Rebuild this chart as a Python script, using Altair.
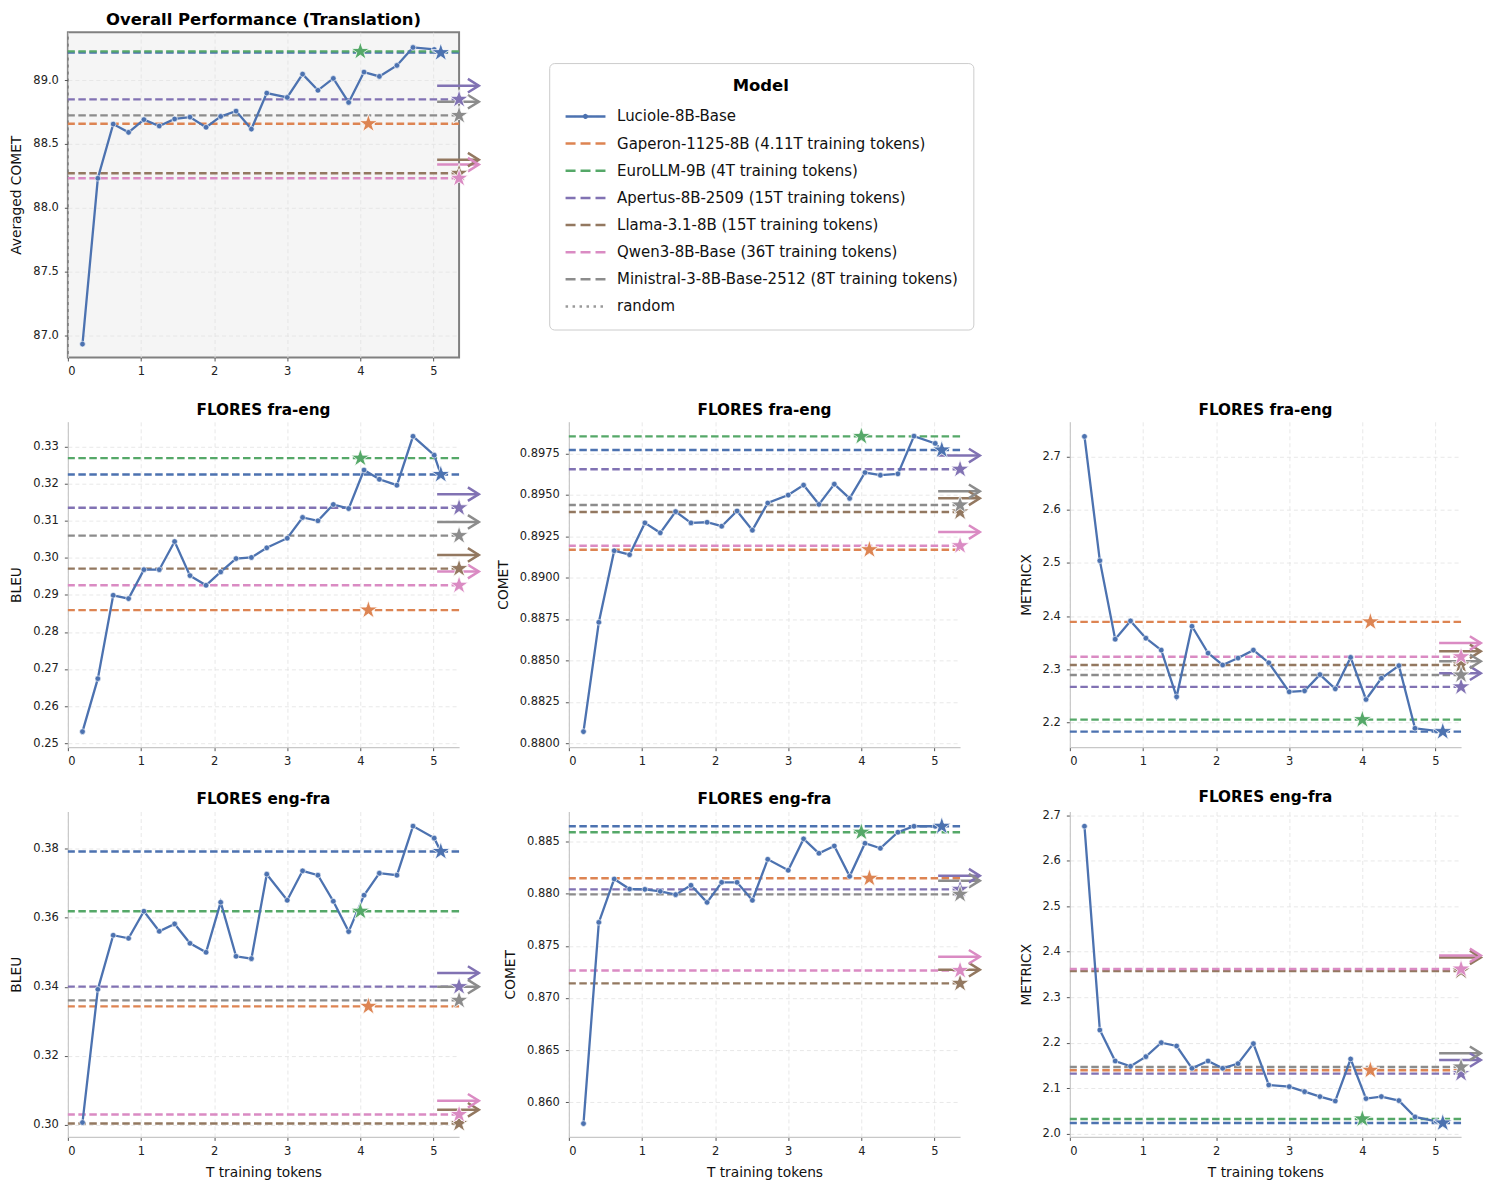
import altair as alt
import pandas as pd

FONT = "DejaVu Sans"

# ---------------- data ----------------
models = [
    "Luciole-8B-Base",
    "Gaperon-1125-8B (4.11T training tokens)",
    "EuroLLM-9B (4T training tokens)",
    "Apertus-8B-2509 (15T training tokens)",
    "Llama-3.1-8B (15T training tokens)",
    "Qwen3-8B-Base (36T training tokens)",
    "Ministral-3-8B-Base-2512 (8T training tokens)",
    "random",
]
colors = ["#4C72B0", "#DD8452", "#55A868", "#8172B3", "#937860", "#DA8BC3", "#8C8C8C", "#9A9A9A"]
baseline_models = models[1:7]
baseline_tokens = [4.11, 4.0, 15, 15, 36, 8]

# checkpoints of Luciole (T training tokens); last one is the final model
x_ckpt = [0.2, 0.41, 0.62, 0.83, 1.04, 1.25, 1.46, 1.67, 1.89, 2.09, 2.3, 2.51,
          2.72, 3.0, 3.21, 3.42, 3.63, 3.84, 4.05, 4.26, 4.5, 4.72, 5.01, 5.1]

overall_comet = [86.93, 88.23, 88.655, 88.59, 88.69, 88.64, 88.695, 88.71, 88.63, 88.715, 88.757, 88.616,
                 88.898, 88.864, 89.047, 88.92, 89.013, 88.825, 89.063, 89.029, 89.115, 89.256, 89.24, 89.215]
fe_bleu = [0.2531, 0.2674, 0.2899, 0.2890, 0.2968, 0.2968, 0.3044, 0.2952, 0.2926, 0.2962, 0.2998, 0.3001,
           0.3027, 0.3053, 0.3109, 0.3100, 0.3144, 0.3133, 0.3237, 0.3212, 0.3196, 0.3328, 0.3277, 0.3225]
fe_comet = [0.8807, 0.8873, 0.89162, 0.89138, 0.8933, 0.8927, 0.89398, 0.8933, 0.89334, 0.8931, 0.89402, 0.89286,
            0.8945, 0.89498, 0.89558, 0.89442, 0.89564, 0.89478, 0.89634, 0.89618, 0.89626, 0.89854, 0.8981, 0.8977]
fe_metricx = [2.738, 2.5042, 2.3565, 2.3908, 2.3584, 2.3359, 2.248, 2.3808, 2.3303, 2.3079, 2.3209, 2.3359,
              2.3122, 2.2574, 2.2592, 2.2898, 2.263, 2.3222, 2.243, 2.2829, 2.3066, 2.1888, 2.184, 2.1825]
ef_bleu = [0.30068, 0.33927, 0.35495, 0.35407, 0.36191, 0.35611, 0.35823, 0.35262, 0.35001, 0.36452, 0.34885, 0.34817,
           0.37265, 0.3651, 0.37362, 0.37236, 0.36481, 0.35601, 0.36655, 0.37294, 0.37236, 0.38658, 0.3831, 0.37923]
ef_comet = [0.85795, 0.87725, 0.88141, 0.88045, 0.88042, 0.88023, 0.87991, 0.88081, 0.87917, 0.88109, 0.88109, 0.87937,
            0.8833, 0.88225, 0.88526, 0.88388, 0.88458, 0.88167, 0.88484, 0.88436, 0.8859, 0.88647, 0.88647, 0.88647]
ef_metricx = [2.6758, 2.2277, 2.1596, 2.1479, 2.1691, 2.1999, 2.1926, 2.1435, 2.1596, 2.1435, 2.1538, 2.1977,
              2.1069, 2.1032, 2.0922, 2.0813, 2.0717, 2.164, 2.0769, 2.0813, 2.0725, 2.0366, 2.0271, 2.0234]

# baseline scores, order: Gaperon, EuroLLM, Apertus, Llama, Qwen3, Ministral
overall_base = [88.658, 89.225, 88.849, 88.269, 88.23, 88.723]
fe_bleu_base = [0.2859, 0.3269, 0.3135, 0.2971, 0.2926, 0.3060]
fe_comet_base = [0.89168, 0.89852, 0.89654, 0.89396, 0.89192, 0.89438]
fe_metricx_base = [2.389, 2.205, 2.2667, 2.3079, 2.3234, 2.2891]
ef_bleu_base = [0.33434, 0.36191, 0.34005, 0.30039, 0.303, 0.33608]
ef_comet_base = [0.88148, 0.8859, 0.88042, 0.8714, 0.87264, 0.87994]
ef_metricx_base = [2.1391, 2.0322, 2.1318, 2.3573, 2.3617, 2.1464]

# y tick labels per panel
overall_ticks = [87.0, 87.5, 88.0, 88.5, 89.0]
fe_bleu_ticks = [0.25, 0.26, 0.27, 0.28, 0.29, 0.30, 0.31, 0.32, 0.33]
fe_comet_ticks = [0.88, 0.8825, 0.885, 0.8875, 0.89, 0.8925, 0.895, 0.8975]
fe_metricx_ticks = [2.2, 2.3, 2.4, 2.5, 2.6, 2.7]
ef_bleu_ticks = [0.30, 0.32, 0.34, 0.36, 0.38]
ef_comet_ticks = [0.86, 0.865, 0.87, 0.875, 0.88, 0.885]
ef_metricx_ticks = [2.0, 2.1, 2.2, 2.3, 2.4, 2.5, 2.6, 2.7]
x_ticks = [0, 1, 2, 3, 4, 5]

panels = [
    dict(title="Overall Performance (Translation)", ytitle="Averaged COMET", vals=overall_comet,
         base=overall_base, dom=[86.825, 89.376], ticks=overall_ticks, fmt=".1f"),
    dict(title="FLORES fra-eng", ytitle="BLEU", vals=fe_bleu, base=fe_bleu_base,
         dom=[0.2489, 0.3367], ticks=fe_bleu_ticks, fmt=".2f"),
    dict(title="FLORES fra-eng", ytitle="COMET", vals=fe_comet, base=fe_comet_base,
         dom=[0.87976, 0.8994], ticks=fe_comet_ticks, fmt=".4f"),
    dict(title="FLORES fra-eng", ytitle="METRICX", vals=fe_metricx, base=fe_metricx_base,
         dom=[2.1532, 2.7655], ticks=fe_metricx_ticks, fmt=".1f"),
    dict(title="FLORES eng-fra", ytitle="BLEU", vals=ef_bleu, base=ef_bleu_base,
         dom=[0.2965, 0.3908], ticks=ef_bleu_ticks, fmt=".2f"),
    dict(title="FLORES eng-fra", ytitle="COMET", vals=ef_comet, base=ef_comet_base,
         dom=[0.85667, 0.88788], ticks=ef_comet_ticks, fmt=".3f"),
    dict(title="FLORES eng-fra", ytitle="METRICX", vals=ef_metricx, base=ef_metricx_base,
         dom=[1.9927, 2.708], ticks=ef_metricx_ticks, fmt=".1f"),
]

# ---------------- style ----------------
XMAX = 5.35
ARROW_X0, ARROW_X1 = 5.05, 5.62
ARROW_DY = -13.7
W, H = 392, 326
STAR = ("M0,-1L0.2245,-0.309L0.951,-0.309L0.363,0.118L0.588,0.809L0,0.382"
        "L-0.588,0.809L-0.363,0.118L-0.951,-0.309L-0.2245,-0.309Z")
CHEVRON = "M-1,-0.62L0,0L-1,0.62"
LEG_LINE = "M-1.47,0L1.47,0"
LEG_LINE_DOT = "M-1.47,0L1.47,0M0.1,0A0.1,0.1,0,1,1,-0.1,0A0.1,0.1,0,1,1,0.1,0Z"
legend_dashes = [[1, 0]] + [[10, 5]] * 6 + [[2.5, 4.5]]
legend_shapes = [LEG_LINE_DOT] + [LEG_LINE] * 7

color_scale = alt.Scale(domain=models, range=colors)
dash_scale = alt.Scale(domain=models, range=legend_dashes)
shape_scale = alt.Scale(domain=models, range=legend_shapes)

LEG = alt.Legend(
    orient="none", legendX=482.3, legendY=31, title="Model",
    titleFont=FONT, titleFontSize=16.5, titleFontWeight="bold", titleColor="black",
    titleAnchor="middle", titlePadding=7,
    labelFont=FONT, labelFontSize=15, labelColor="#111", labelLimit=800, labelOffset=16.6,
    symbolSize=740, symbolStrokeWidth=2.5, symbolOffset=6.4, symbolOpacity=1,
    rowPadding=4.2, padding=15, strokeColor="#cccccc", fillColor="white", cornerRadius=5,
)


def make_panel(p, show_xtitle, framed):
    xscale = alt.Scale(domain=[0, XMAX], nice=False, zero=False)
    yscale = alt.Scale(domain=p["dom"], nice=False, zero=False)
    xaxis = alt.Axis(values=x_ticks, format="d", title="T training tokens" if show_xtitle else None,
                     domain=not framed, grid=True, labelPadding=5)
    yaxis = alt.Axis(values=p["ticks"], format=p["fmt"], title=p["ytitle"], domain=not framed, grid=True,
                     labelPadding=6)

    def X(field=None, datum=None):
        if datum is not None:
            return alt.X(datum=datum, type="quantitative", scale=xscale, axis=xaxis)
        return alt.X(field, type="quantitative", scale=xscale, axis=xaxis)

    Y = alt.Y("value:Q", scale=yscale, axis=yaxis)

    line_df = pd.DataFrame({"x": x_ckpt, "value": p["vals"], "model": models[0]})
    base_vals = [p["vals"][-1]] + list(p["base"])
    star_x = [x_ckpt[-1]] + [min(t, XMAX) for t in baseline_tokens]
    beyond = [False] + [t > XMAX for t in baseline_tokens]
    base_df = pd.DataFrame({"model": models[:7], "value": base_vals, "hex": colors[:7],
                            "star_x": star_x, "beyond": beyond})
    arrow_df = base_df[base_df["beyond"]]
    legend_df = line_df.iloc[0:0]  # no marks: only carries the legend

    rules = alt.Chart(base_df).mark_rule(strokeDash=[7.5, 3.5], strokeWidth=2.4).encode(
        y=Y, color=alt.Color("hex:N", scale=None))
    line = alt.Chart(line_df).mark_line(strokeWidth=2.3, color=colors[0]).encode(x=X("x"), y=Y)
    pts = alt.Chart(line_df).mark_point(filled=True, size=32, stroke="white", strokeWidth=0.6,
                                        opacity=1, fill=colors[0]).encode(x=X("x"), y=Y)
    leg = alt.Chart(legend_df).mark_point(filled=True, opacity=1, strokeWidth=2.5).encode(
        x=X("x"), y=Y,
        color=alt.Color("model:N", scale=color_scale, legend=LEG),
        stroke=alt.Stroke("model:N", scale=color_scale, legend=LEG),
        strokeDash=alt.StrokeDash("model:N", scale=dash_scale, legend=LEG),
        shape=alt.Shape("model:N", scale=shape_scale, legend=LEG))
    arrow_line = alt.Chart(arrow_df).mark_rule(strokeWidth=2.5, yOffset=ARROW_DY).encode(
        x=X(datum=ARROW_X0), x2=alt.X2(datum=ARROW_X1), y=Y, color=alt.Color("hex:N", scale=None))
    arrow_head = alt.Chart(arrow_df).mark_point(shape=CHEVRON, filled=False, size=480, strokeWidth=2.5,
                                                opacity=1, yOffset=ARROW_DY).encode(
        x=X(datum=ARROW_X1), y=Y, stroke=alt.Stroke("hex:N", scale=None))
    stars = alt.Chart(base_df).mark_point(shape=STAR, filled=True, size=380, stroke="white",
                                          strokeWidth=0.8, opacity=1).encode(
        x=X("star_x"), y=Y, fill=alt.Fill("hex:N", scale=None))

    title = alt.TitleParams(p["title"], fontSize=16.5 if framed else 15.3, fontWeight="bold",
                            font=FONT, color="black", offset=4)
    ch = alt.layer(rules, line, pts, leg, arrow_line, arrow_head, stars).properties(
        width=W, height=H, title=title)
    if framed:
        ch = ch.properties(view=alt.ViewBackground(fill="#f5f5f5", stroke="#808080", strokeWidth=2))
    return ch


def blank():
    return alt.Chart(pd.DataFrame({"v": [0.0]})).mark_point(opacity=0).encode(
        x=alt.X("v:Q", axis=None), y=alt.Y("v:Q", axis=None)).properties(width=W, height=H)


cells = [make_panel(panels[0], False, True), blank(), blank()]
for i in range(1, 4):
    cells.append(make_panel(panels[i], False, False))
for i in range(4, 7):
    cells.append(make_panel(panels[i], True, False))

chart = alt.concat(*cells, columns=3, spacing={"row": 64.5, "column": 110}, bounds="flush").configure_view(
    stroke=None
).configure_axis(
    labelFont=FONT, labelFontSize=11.5, labelColor="#222222",
    titleFont=FONT, titleFontSize=13.8, titleFontWeight="normal", titleColor="#111111",
    domainColor="#c8c8c8", domainWidth=1.2, tickColor="#555555", tickSize=3.5, tickWidth=1,
    gridColor="#e2e2e2", gridDash=[4, 3], gridWidth=0.8, titlePadding=9,
).properties(padding={"left": 8, "top": 9, "right": 5, "bottom": 5})

chart.save("out.html", embed_options={"renderer": "svg", "actions": False})
